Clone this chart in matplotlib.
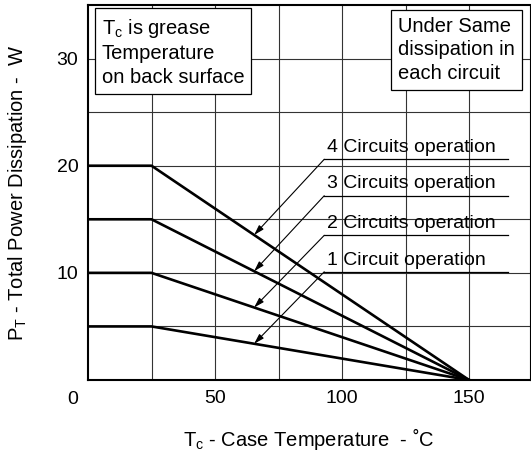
import matplotlib.pyplot as plt

plt.rcParams['font.family'] = ['Liberation Sans', 'DejaVu Sans']
plt.rcParams['mathtext.fontset'] = 'custom'
plt.rcParams['mathtext.rm'] = 'Liberation Sans'
plt.rcParams['mathtext.it'] = 'Liberation Sans'

# Derating curves: flat up to 25 C, then linear to 0 W at 150 C
temps = [0, 25, 150]
max_power = [5, 10, 15, 20]
labels = ['1 Circuit operation', '2 Circuits operation',
          '3 Circuits operation', '4 Circuits operation']
# label underline heights (W) and arrow-tip temperature (C)
label_y = [10.1, 13.5, 17.2, 20.6]
arrow_x = 65.4
label_x0 = 93.0
label_x1 = 165.5

fig = plt.figure(figsize=(5.31, 4.54), dpi=100)
ax = fig.add_axes([88 / 531, 1 - 380 / 454, (530 - 88) / 531, (380 - 5) / 454])
ax.set_xlim(0, 174)
ax.set_ylim(0, 35)

# grid
for gx in range(25, 175, 25):
    ax.axvline(gx, color='#333333', lw=0.8, zorder=1)
for gy in range(5, 35, 5):
    ax.axhline(gy, color='#333333', lw=0.8, zorder=1)

for p in max_power:
    ax.plot(temps, [p, p, 0], color='black', lw=1.9, zorder=3)

for p, lab, ly in zip(max_power, labels, label_y):
    tip_y = p * (150 - arrow_x) / 125
    ax.plot([label_x0, label_x1], [ly, ly], color='black', lw=0.9, zorder=3)
    ax.annotate('', xy=(arrow_x, tip_y), xytext=(label_x0, ly),
                arrowprops=dict(arrowstyle='-|>,head_length=0.6,head_width=0.18',
                                color='black', lw=0.8, shrinkA=0, shrinkB=0),
                zorder=4)
    ax.text(label_x0 + 1.0, ly + 0.3, lab, ha='left', va='bottom',
            fontsize=14, zorder=5)

# note boxes
ax.text(5.4, 33.9, 'T$_{\\mathrm{c}}$ is grease\nTemperature\non back surface',
        ha='left', va='top', fontsize=14.5, linespacing=1.3, zorder=5,
        bbox=dict(facecolor='white', edgecolor='black', lw=0.9, boxstyle='square,pad=0.35'))
ax.text(122.0, 33.9, 'Under Same\ndissipation in\neach circuit',
        ha='left', va='top', fontsize=14.5, linespacing=1.3, zorder=5,
        bbox=dict(facecolor='white', edgecolor='black', lw=0.9, boxstyle='square,pad=0.35'))

ax.set_xticks([50, 100, 150])
ax.set_yticks([10, 20, 30])
ax.tick_params(length=0, labelsize=14, pad=7)
ax.text(-6, -1.0, '0', ha='center', va='top', fontsize=14)

for s in ax.spines.values():
    s.set_linewidth(1.5)
ax.spines['right'].set_linewidth(0.8)

ax.set_xlabel('T$_{\\mathrm{c}}$ - Case Temperature  - \u02daC', fontsize=14.5, labelpad=14)
ax.set_ylabel('P$_{\\mathrm{T}}$ - Total Power Dissipation -  W', fontsize=14.5, labelpad=20)

fig.savefig('out.png', dpi=100)
